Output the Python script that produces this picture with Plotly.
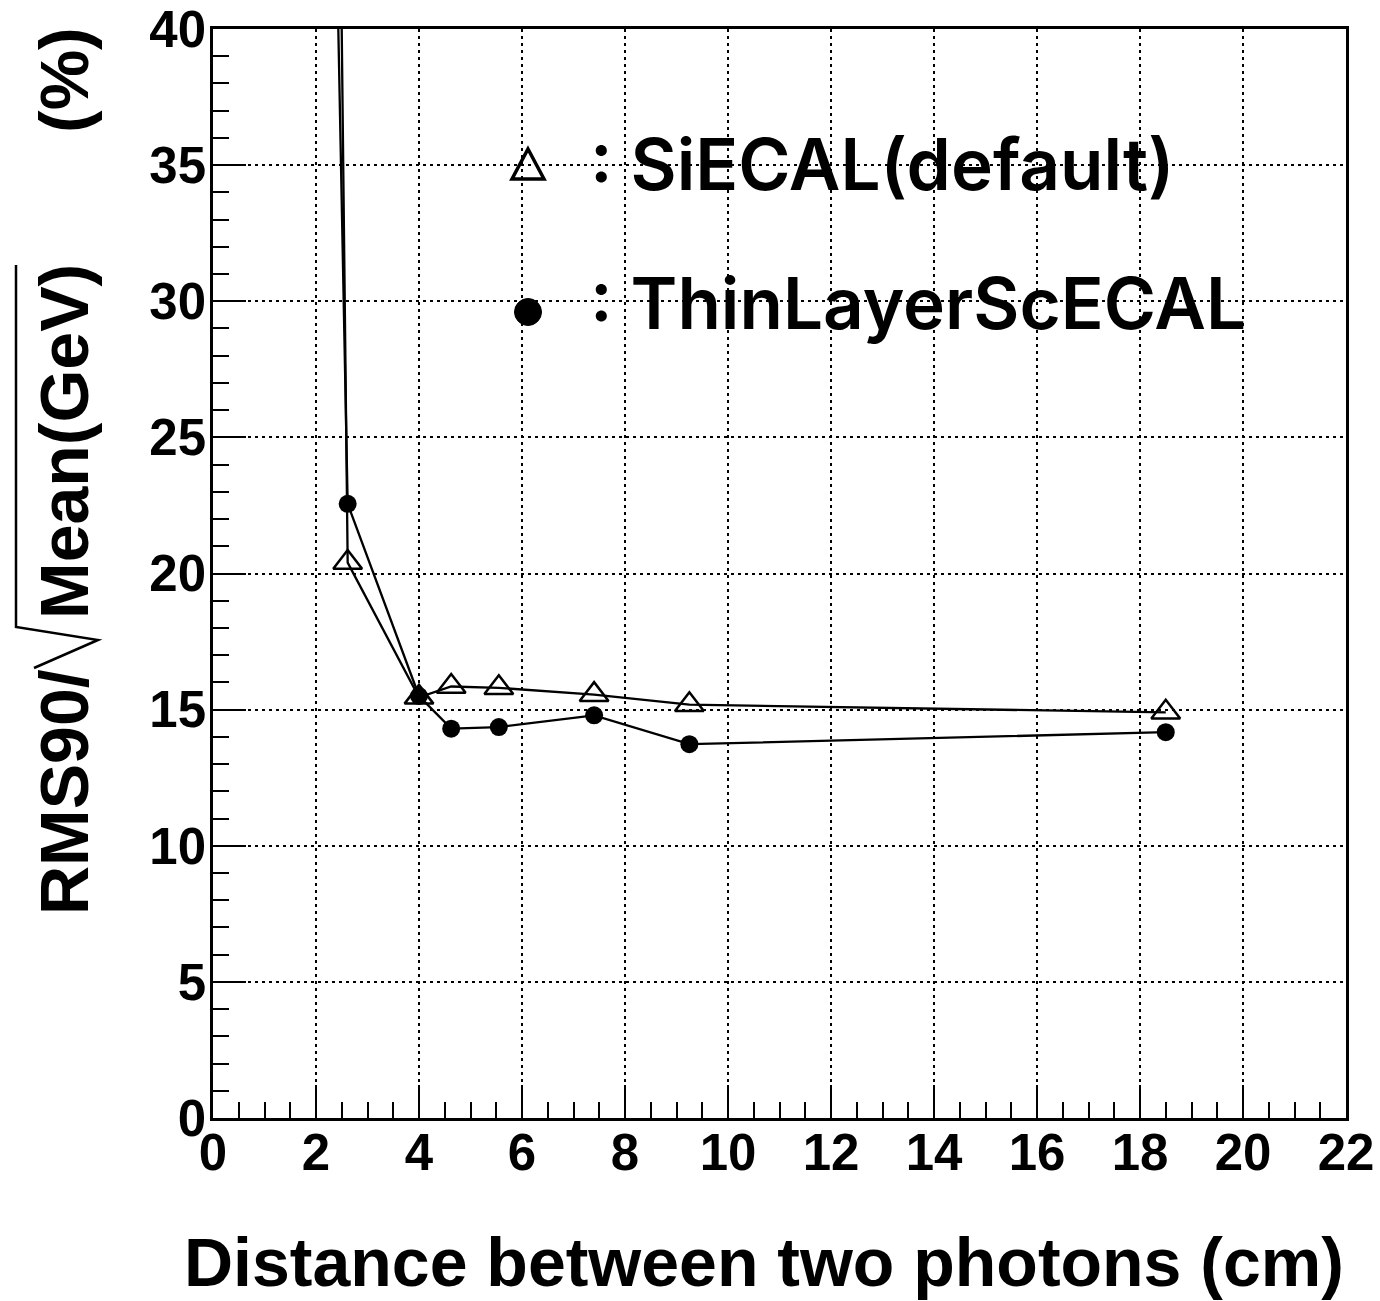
import plotly.graph_objects as go

# ---------------- data ----------------
distance_si = [1.85, 2.615, 4.0, 4.625, 5.55, 7.4, 9.25, 18.5]
resolution_si = [150.0, 20.4, 15.45, 15.85, 15.8, 15.55, 15.18, 14.9]

distance_sc = [1.85, 2.615, 4.0, 4.625, 5.55, 7.4, 9.25, 18.5]
resolution_sc = [96.0, 22.56, 15.5, 14.3, 14.36, 14.79, 13.73, 14.17]

x_ticks = [0, 2, 4, 6, 8, 10, 12, 14, 16, 18, 20, 22]
y_ticks = [0, 5, 10, 15, 20, 25, 30, 35, 40]

name_si = ": SiECAL(default)"
name_sc = ": ThinLayerScECAL"

# ---------------- geometry helpers (page pixels -> paper) ----------------
W, H = 1380, 1301
L, R, T, B = 213, 34, 29, 183
PW, PH = W - L - R, H - T - B


def px(x):
    return (x - L) / PW


def py(y):
    return (H - B - y) / PH


BOLD = dict(family="Liberation Sans, Arial, sans-serif", color="black", weight="bold")

fig = go.Figure()

fig.add_trace(go.Scatter(
    x=distance_si, y=resolution_si, mode="lines+markers", name=name_si,
    line=dict(color="black", width=2.3),
    marker=dict(symbol="triangle-up-open", size=25, color="black",
                line=dict(color="black", width=2.5)),
    cliponaxis=True, showlegend=False,
))
fig.add_trace(go.Scatter(
    x=distance_sc, y=resolution_sc, mode="lines+markers", name=name_sc,
    line=dict(color="black", width=2.3),
    marker=dict(symbol="circle", size=18, color="black"),
    cliponaxis=True, showlegend=False,
))

axis_common = dict(
    showline=True, linecolor="black", linewidth=2.5, mirror=True,
    ticks="inside", ticklen=33, tickwidth=2, tickcolor="black",
    showgrid=True, gridcolor="black", gridwidth=2, griddash="3px,4px",
    zeroline=False, automargin=False,
    tickfont=dict(size=51, **BOLD),
)

fig.update_xaxes(
    range=[0, 22], tickvals=x_ticks, ticktext=[str(v) for v in x_ticks],
    minor=dict(dtick=0.5, ticklen=16, tickwidth=2, tickcolor="black",
               ticks="inside", showgrid=False),
    ticklabelstandoff=-12,
    **axis_common,
)
fig.update_yaxes(
    range=[0, 40], tickvals=y_ticks, ticktext=[str(v) for v in y_ticks],
    minor=dict(dtick=1, ticklen=16, tickwidth=2, tickcolor="black",
               ticks="inside", showgrid=False),
    ticklabelstandoff=-6,
    **axis_common,
)

annotations = []
# x-axis title
annotations.append(dict(
    text="Distance between two photons (cm)", xref="paper", yref="paper",
    x=px(1346), y=py(1262), xanchor="right", yanchor="middle",
    showarrow=False, font=dict(size=68, **BOLD),
))
# y-axis title pieces
YT = dict(size=68, **BOLD)
for txt, yc in [("RMS90/", 792), ("Mean(GeV)", 442), ("(%)", 80)]:
    annotations.append(dict(
        text=txt, xref="paper", yref="paper", x=px(64), y=py(yc),
        xanchor="center", yanchor="middle", textangle=-90,
        showarrow=False, font=YT,
    ))
# legend texts
LEG = dict(family="Inter, Liberation Sans, sans-serif", color="black", size=71, weight=600)
annotations.append(dict(text=name_si, xref="paper", yref="paper", x=px(588), y=py(164),
                        xanchor="left", yanchor="middle", showarrow=False, font=LEG))
annotations.append(dict(text=name_sc, xref="paper", yref="paper", x=px(588), y=py(303),
                        xanchor="left", yanchor="middle", showarrow=False, font=LEG))

shapes = []
# radical sign of the y title
rad = [(16, 265), (16, 627), (98, 640), (34, 668)]
path = "M " + " L ".join(f"{px(a):.5f},{py(b):.5f}" for a, b in rad)
shapes.append(dict(type="path", path=path, xref="paper", yref="paper",
                   line=dict(color="black", width=2.5)))
# legend glyphs
tri = [(528, 149), (544, 179), (512, 179)]
tpath = "M " + " L ".join(f"{px(a):.5f},{py(b):.5f}" for a, b in tri) + " Z"
shapes.append(dict(type="path", path=tpath, xref="paper", yref="paper",
                   line=dict(color="black", width=3.5), fillcolor="rgba(0,0,0,0)"))
shapes.append(dict(type="circle", xref="paper", yref="paper",
                   x0=px(528 - 13.5), x1=px(528 + 13.5), y0=py(312 + 13.5), y1=py(312 - 13.5),
                   line=dict(color="black", width=1), fillcolor="black"))

fig.update_layout(
    width=W, height=H,
    margin=dict(l=L, r=R, t=T, b=B, pad=0, autoexpand=False),
    paper_bgcolor="white", plot_bgcolor="white",
    annotations=annotations, shapes=shapes,
    showlegend=False,
)

fig.write_html("out.html")
